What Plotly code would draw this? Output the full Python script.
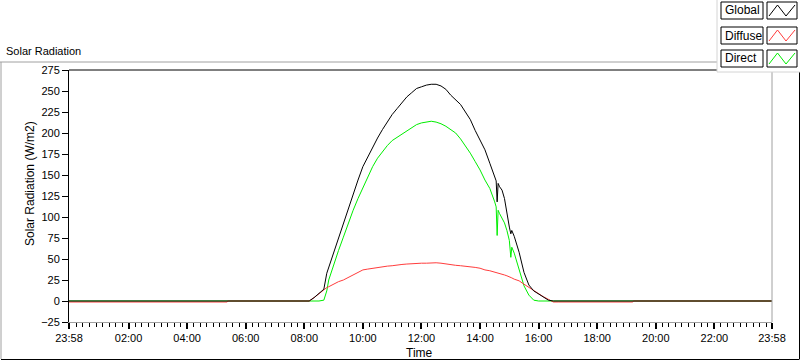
import plotly.graph_objects as go

# ---------------- data ----------------
day = "2024-01-02"
prev_day = "2024-01-01"

times = ["05:22", "05:23", "08:00", "08:10", "08:20", "08:30", "08:40", "08:46", "08:50",
         "09:00", "09:10", "09:20", "09:30", "09:40", "09:50",
         "10:00", "10:10", "10:20", "10:30", "10:40", "10:50",
         "11:00", "11:10", "11:20", "11:30", "11:40", "11:50",
         "12:00", "12:10", "12:20", "12:30", "12:40", "12:50",
         "13:00", "13:10", "13:20", "13:30", "13:40", "13:50",
         "14:00", "14:10", "14:20", "14:30", "14:33", "14:35", "14:37", "14:40", "14:45", "14:50", "14:55",
         "15:00", "15:03", "15:05", "15:10", "15:20", "15:30", "15:40", "15:50",
         "16:00", "16:10", "16:20", "16:30", "16:40", "19:13", "19:14", "23:58"]

global_vals = [0, 0, 0, 0, 4, 9, 14, 33, 40,
               57, 75, 92, 110, 128, 144,
               160, 172, 183, 194, 204, 213,
               222, 229, 236, 243, 248, 253,
               255, 257, 258, 258, 256, 252,
               245, 239, 234, 225, 216, 203,
               192, 180, 164, 147, 143, 118, 140, 136, 132, 122, 102,
               88, 80, 84, 77, 58, 34, 19, 12,
               8, 5, 1, 0, 0, 0, 0, 0]

diffuse_vals = [-1.2, 0, 0, 0, 4, 9, 14, 16, 17,
                20, 23, 25, 28, 32, 35,
                37, 38, 39, 40, 41, 41.5,
                42, 43, 43.5, 44, 44.5, 45,
                45, 45, 45.5, 45.5, 45, 44,
                43.5, 42.5, 42, 41.5, 41, 40,
                39, 37, 36, 34.5, 34, 34, 33.5, 33, 32, 31, 30,
                29, 28, 27.5, 26, 24, 20, 16, 12,
                8, 5, 2, -1.2, -1.2, -1.2, 0, 0]

direct_vals = [0, 0, 0, 0, 0, 0, 1, 12, 25,
               44, 60, 76, 93, 108, 122,
               135, 148, 160, 170, 178, 185,
               191, 195, 199, 203, 207, 210,
               212, 213, 214, 213, 211, 208,
               204, 200, 193, 185, 176, 166,
               156, 144, 134, 118, 112, 78, 108, 104, 98, 93, 84,
               72, 52, 64, 57, 37, 18, 7, 1,
               0, 0, 0, 0, 0, 0, 0, 0]

start_time = prev_day + " 23:58"
start_vals = {"Global": 0, "Diffuse": -1.2, "Direct": 0}

y_ticks = [-25, 0, 25, 50, 75, 100, 125, 150, 175, 200, 225, 250, 275]
x_tick_labels = ["23:58", "02:00", "04:00", "06:00", "08:00", "10:00", "12:00",
                 "14:00", "16:00", "18:00", "20:00", "22:00", "23:58"]

series_names = ["Direct", "Diffuse", "Global"]
series_colors = {"Global": "#000000", "Diffuse": "#ff3c3c", "Direct": "#00ee00"}
series_data = {"Global": global_vals, "Diffuse": diffuse_vals, "Direct": direct_vals}

# ---------------- figure ----------------
W, H = 800, 361
L, R, T, B = 69, 772, 70, 322
PW, PH = R - L, B - T


def px(x):
    return (x - L) / PW


def py(y):
    return (B - y) / PH


xs = [start_time] + [f"{day} {t}" for t in times]

fig = go.Figure()
for name in series_names:
    fig.add_trace(go.Scatter(
        x=xs, y=[start_vals[name]] + series_data[name], mode="lines", name=name,
        line=dict(color=series_colors[name], width=1), showlegend=False,
        hoverinfo="skip"))

tickvals = [start_time] + [f"{day} {h}" for h in x_tick_labels[1:-1]] + [f"{day} 23:58"]

FONT = "Liberation Sans, Arial, sans-serif"

fig.update_layout(
    width=W, height=H,
    margin=dict(l=L, r=W - R, t=T, b=H - B, pad=0),
    paper_bgcolor="white", plot_bgcolor="white",
    font=dict(family=FONT, size=11, color="#000000"),
    showlegend=False,
    xaxis=dict(
        type="date", range=[start_time, f"{day} 23:58"],
        tickmode="array", tickvals=tickvals, ticktext=x_tick_labels,
        ticks="outside", ticklen=6, tickwidth=2, tickcolor="#000000",
        showline=True, linecolor="#a0a0a0", linewidth=1,
        showgrid=False, zeroline=False,
        minor=dict(ticks="outside", ticklen=4, tickwidth=1, tickcolor="#000000",
                   dtick=800000, tick0=f"{day} 02:00", showgrid=False),
        tickfont=dict(size=11, family=FONT, color="#000000"),
        fixedrange=True,
    ),
    yaxis=dict(
        range=[-25, 275], tickmode="array", tickvals=y_ticks,
        ticks="outside", ticklen=6, tickwidth=1, tickcolor="#000000",
        showline=True, linecolor="#000000", linewidth=1,
        showgrid=False, zeroline=False,
        tickfont=dict(size=11, family=FONT, color="#000000"),
        fixedrange=True,
    ),
)

shapes = []
# outer frame
shapes.append(dict(type="line", xref="paper", yref="paper", x0=px(0), x1=px(717), y0=py(62), y1=py(62),
                   line=dict(color="#a0a0a0", width=1)))
shapes.append(dict(type="line", xref="paper", yref="paper", x0=px(1), x1=px(1), y0=py(62), y1=py(359),
                   line=dict(color="#a0a0a0", width=1)))
shapes.append(dict(type="line", xref="paper", yref="paper", x0=px(1), x1=px(799), y0=py(359.5), y1=py(359.5),
                   line=dict(color="#000000", width=1)))
shapes.append(dict(type="line", xref="paper", yref="paper", x0=px(799.5), x1=px(799.5), y0=py(72), y1=py(359.5),
                   line=dict(color="#000000", width=1)))
# plot area top (black) and right (grey) borders
shapes.append(dict(type="line", xref="paper", yref="paper", x0=0, x1=1, y0=1, y1=1,
                   line=dict(color="#000000", width=1)))
shapes.append(dict(type="line", xref="paper", yref="paper", x0=1, x1=1, y0=0, y1=1,
                   line=dict(color="#a0a0a0", width=1)))
# legend panel
shapes.append(dict(type="rect", xref="paper", yref="paper", x0=px(717), x1=px(801), y0=py(72), y1=py(-1),
                   line=dict(color="#d4d4d4", width=1), fillcolor="white", layer="above"))

legend_rows = [("Global", 2, 19), ("Diffuse", 27, 44), ("Direct", 50, 67)]
annotations = []
for name, y0, y1 in legend_rows:
    shapes.append(dict(type="rect", xref="paper", yref="paper", x0=px(721), x1=px(763), y0=py(y1), y1=py(y0),
                       line=dict(color="#000000", width=1), fillcolor="white", layer="above"))
    shapes.append(dict(type="rect", xref="paper", yref="paper", x0=px(767), x1=px(797), y0=py(y1), y1=py(y0),
                       line=dict(color="#000000", width=1), fillcolor="white", layer="above"))
    pts = [(769, y1 - 3), (777.5, y0 + 3), (786, y1 - 3), (795, y0 + 3)]
    path = "M " + " L ".join(f"{px(a)},{py(b)}" for a, b in pts)
    shapes.append(dict(type="path", xref="paper", yref="paper", path=path,
                       line=dict(color=series_colors[name], width=1), layer="above"))
    annotations.append(dict(text=name, xref="paper", yref="paper", x=px(723), y=py((y0 + y1) / 2),
                            xanchor="left", yanchor="middle", showarrow=False,
                            font=dict(size=12, family=FONT, color="#000000")))

annotations.append(dict(text="Solar Radiation", xref="paper", yref="paper", x=px(4), y=py(51),
                        xanchor="left", yanchor="middle", showarrow=False,
                        font=dict(size=11, family=FONT, color="#000000")))
annotations.append(dict(text="Solar Radiation (W/m2)", xref="paper", yref="paper", x=px(30), y=py(184),
                        xanchor="center", yanchor="middle", textangle=-90, showarrow=False,
                        font=dict(size=12, family=FONT, color="#000000")))
annotations.append(dict(text="Time", xref="paper", yref="paper", x=px(419), y=py(353),
                        xanchor="center", yanchor="middle", showarrow=False,
                        font=dict(size=12, family=FONT, color="#000000")))

fig.update_layout(shapes=shapes, annotations=annotations)
fig.write_html("out.html", config={"displayModeBar": False},
               post_script="document.body.style.margin='0';document.body.style.overflow='hidden';")
